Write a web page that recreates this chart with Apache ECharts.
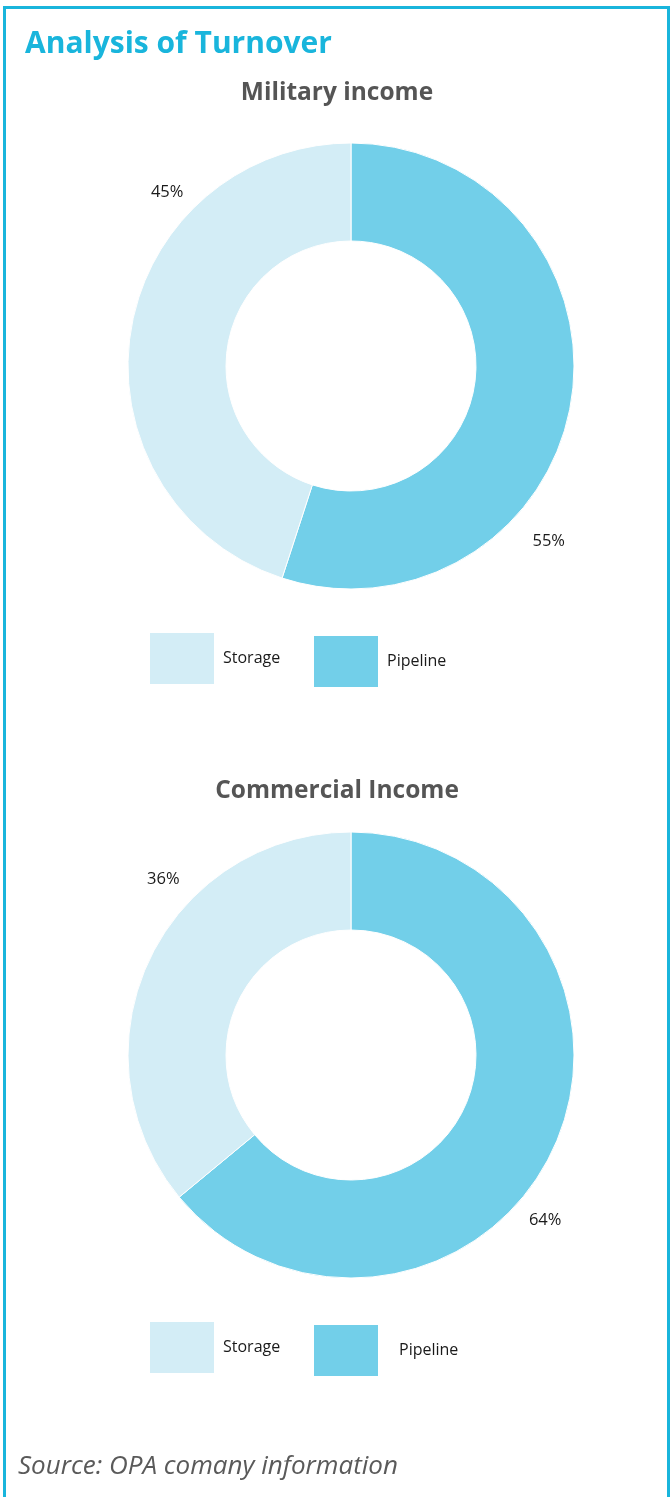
<!DOCTYPE html>
<html>
<head>
<meta charset="utf-8">
<script src="https://cdn.jsdelivr.net/npm/echarts@6/dist/echarts.min.js"></script>
<style>
  html, body { margin: 0; padding: 0; background: #ffffff; }
  #chart { width: 672px; height: 1497px; }
</style>
</head>
<body>
<div id="chart"></div>
<script>
// Turnover split by business line
const segments = ['Pipeline', 'Storage'];
const militaryValues = [55, 45];
const commercialValues = [64, 36];
const chartTitles = ['Military income', 'Commercial Income'];

const COLORS = { Pipeline: '#72cfe9', Storage: '#d3edf6' };
const FONT = '"Open Sans", "Noto Sans", sans-serif';

// Donut geometry
const CX = 351;
const CENTERS_Y = [366, 1055];
const R_IN = 125, R_OUT = 223;
// Percentage labels: [angle clockwise from 12 o'clock in degrees, distance from centre]
const LABEL_POS = [
  { Pipeline: [131.5, 264], Storage: [313.4, 253] },
  { Pipeline: [130.4, 255], Storage: [313.1, 257] }
];

function buildData(values) {
  return segments.map((name, i) => ({
    name: name,
    value: values[i],
    itemStyle: { color: COLORS[name] }
  }));
}

function donut(values, idx) {
  return {
    type: 'pie',
    center: [CX, CENTERS_Y[idx]],
    radius: [R_IN, R_OUT],
    startAngle: 90,
    clockwise: true,
    silent: true,
    itemStyle: { borderColor: '#ffffff', borderWidth: 1 },
    label: {
      show: true,
      position: 'outside',
      formatter: '{c}%',
      color: '#1a1a1a',
      fontFamily: FONT,
      fontSize: 16.5
    },
    labelLine: { show: false },
    labelLayout: function (p) {
      const pos = LABEL_POS[idx][segments[p.dataIndex]];
      const a = pos[0] * Math.PI / 180;
      return {
        x: CX + pos[1] * Math.sin(a),
        y: CENTERS_Y[idx] - pos[1] * Math.cos(a),
        align: 'center',
        verticalAlign: 'middle'
      };
    },
    emphasis: { disabled: true },
    data: buildData(values)
  };
}

function legendItem(name, left, top, padLeft, shiftY) {
  return {
    data: [name],
    left: left,
    top: top,
    padding: 0,
    orient: 'horizontal',
    icon: 'rect',
    itemWidth: 66,
    itemHeight: 53,
    selectedMode: false,
    textStyle: {
      color: '#1a1a1a',
      fontFamily: FONT,
      fontSize: 16,
      padding: [Math.max(0, 2 * shiftY), 0, Math.max(0, -2 * shiftY), padLeft]
    }
  };
}

const chart = echarts.init(document.getElementById('chart'), null, { renderer: 'canvas' });

chart.setOption({
  backgroundColor: '#ffffff',
  animation: false,
  title: [
    {
      text: 'Analysis of Turnover',
      left: 25,
      top: 29,
      padding: 0,
      textStyle: { color: '#19b5dc', fontFamily: FONT, fontWeight: 'bold', fontSize: 30 }
    },
    {
      text: chartTitles[0],
      left: 337,
      top: 81,
      textAlign: 'center',
      padding: 0,
      textStyle: { color: '#555555', fontFamily: FONT, fontWeight: 'bold', fontSize: 24.5 }
    },
    {
      text: chartTitles[1],
      left: 337,
      top: 779,
      textAlign: 'center',
      padding: 0,
      textStyle: { color: '#555555', fontFamily: FONT, fontWeight: 'bold', fontSize: 24.5 }
    },
    {
      text: 'Source: OPA comany information',
      left: 18,
      top: 1454,
      padding: 0,
      textStyle: { color: '#5a5a5a', fontFamily: FONT, fontStyle: 'italic', fontWeight: 'normal', fontSize: 26 }
    }
  ],
  legend: [
    legendItem('Storage', 148, 631, 3, 3),
    legendItem('Pipeline', 312, 634, 3, 3),
    legendItem('Storage', 148, 1320, 3, 3),
    legendItem('Pipeline', 312, 1323, 15, 10)
  ],
  graphic: [
    {
      type: 'rect',
      silent: true,
      shape: { x: 4.5, y: 7.5, width: 664, height: 1520 },
      style: { fill: 'none', stroke: '#19b5dc', lineWidth: 3 }
    }
  ],
  series: [
    donut(militaryValues, 0),
    donut(commercialValues, 1)
  ]
});
</script>
</body>
</html>
